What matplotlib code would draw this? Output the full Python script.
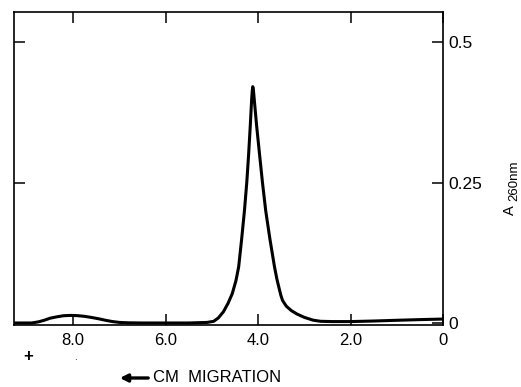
import matplotlib.pyplot as plt

plt.rcParams['font.family'] = ['Liberation Sans', 'DejaVu Sans']

# migration distance (cm) and absorbance at 260 nm
distance = [9.28, 8.90, 8.75, 8.62, 8.50, 8.35, 8.20, 8.05, 7.90, 7.75,
            7.60, 7.45, 7.30, 7.15, 7.00, 6.80, 6.50, 6.00, 5.50, 5.10,
            4.96, 4.86, 4.75, 4.65, 4.56, 4.48, 4.42, 4.355, 4.295, 4.245,
            4.205, 4.17, 4.138, 4.124, 4.115, 4.102, 4.085, 4.03, 3.968, 3.905,
            3.835, 3.745, 3.645, 3.59, 3.51, 3.47, 3.39, 3.28, 3.16, 3.00,
            2.81, 2.65, 2.40, 2.00, 1.50, 1.00, 0.50, 0.00]
absorbance = [0.0, 0.0, 0.002, 0.005, 0.0085, 0.011, 0.013, 0.0135, 0.013, 0.0118,
              0.0098, 0.0075, 0.0048, 0.0025, 0.001, 0.0003, 0.0, 0.0, 0.0, 0.001,
              0.003, 0.009, 0.020, 0.035, 0.052, 0.075, 0.100, 0.150, 0.200, 0.250,
              0.300, 0.350, 0.400, 0.415, 0.421, 0.416, 0.400, 0.350, 0.300, 0.250,
              0.200, 0.150, 0.100, 0.077, 0.050, 0.040, 0.030, 0.022, 0.016, 0.010,
              0.005, 0.003, 0.0025, 0.0025, 0.0035, 0.0048, 0.006, 0.007]

x_ticks = [8.0, 6.0, 4.0, 2.0, 0.0]
x_labels = ['8.0', '6.0', '4.0', '2.0', '0']
y_ticks = [0, 0.25, 0.5]
y_labels = ['0', '0.25', '0.5']

fig = plt.figure(figsize=(5.21, 3.87), dpi=100)
ax = fig.add_axes([14 / 521, 62 / 387, 429 / 521, 313 / 387])

ax.plot(distance, absorbance, color='black', lw=2.2, solid_joinstyle='round',
        solid_capstyle='round')

ax.set_xlim(9.28, 0)
ax.set_ylim(-0.0036, 0.554)

ax.set_xticks(x_ticks)
ax.set_xticklabels(x_labels, fontsize=12)
ax.set_yticks(y_ticks)
ax.set_yticklabels(y_labels, fontsize=12.5)
ax.tick_params(direction='in', length=8, width=1.1, top=True, right=True,
               left=True, labelleft=False, labelright=True, pad=4)
ax.tick_params(axis='x', pad=6)
for s in ax.spines.values():
    s.set_linewidth(1.2)

# right-hand axis title, A with a large subscript
fig.text(510 / 521, 1 - 210 / 387, 'A', rotation=90, fontsize=10.5,
         ha='center', va='center')
fig.text(514 / 521, 1 - 181 / 387, '260nm', rotation=90, fontsize=9.5,
         ha='center', va='center')

fig.text(28 / 521, 1 - 356 / 387, '+', fontsize=12, ha='center', va='center',
         fontweight='bold')
fig.text(75 / 521, 1 - 357 / 387, '.', fontsize=7, ha='center', va='center')

ax.annotate('', xy=(117 / 521, 1 - 378 / 387), xytext=(151 / 521, 1 - 378 / 387),
            xycoords='figure fraction',
            arrowprops=dict(arrowstyle='-|>', color='black', lw=2.4,
                            mutation_scale=11))
fig.text(153 / 521, 1 - 378 / 387, 'CM  MIGRATION', fontsize=12,
         ha='left', va='center')

fig.savefig('out.png', dpi=100)
